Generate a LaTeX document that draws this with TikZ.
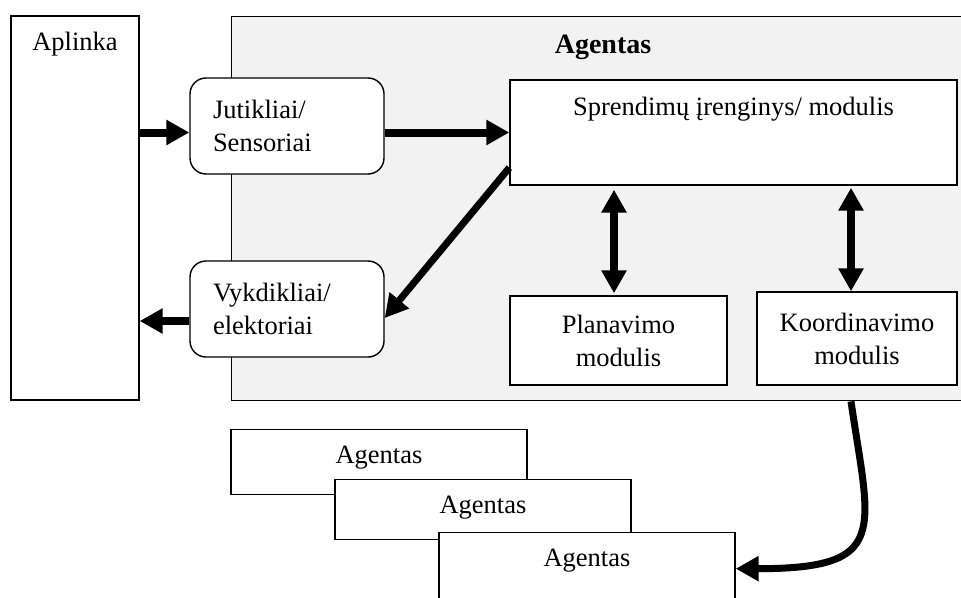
\documentclass[tikz,border=0pt]{standalone}
\usepackage{fontspec}
\setmainfont{Liberation Serif}
\usetikzlibrary{arrows.meta, positioning}

\tikzset{
	box/.style={draw, line width=1.4pt, fill=white, inner sep=0pt},
	roundbox/.style={box, rounded corners=16pt, align=left, text width=148pt, inner xsep=23pt, minimum width=194pt, minimum height=96pt},
	agentbox/.style={box, anchor=north, minimum width=296pt, text height=26pt, inner ysep=8pt},
	bigarrow/.style={line width=8pt, -{Triangle[length=23pt,width=24pt]}},
	dblarrow/.style={line width=8pt, {Triangle[length=23pt,width=24pt]}-{Triangle[length=23pt,width=24pt]}},
}

\begin{document}
\begin{tikzpicture}[x=1pt, y=-1pt, font=\fontsize{26.5}{33}\selectfont]
	\useasboundingbox (0,0) rectangle (961,597);
	\clip (0,0) rectangle (961,597);

		\node[box, minimum width=128pt, minimum height=384pt, label={[anchor=north, yshift=-13pt]north:Aplinka}] (aplinka) at (75,208) {};
		\node[box, fill=black!5, anchor=north west, minimum width=760pt, minimum height=384pt] (agentas) at (231,16) {};
		\node[font=\bfseries\fontsize{28}{33}\selectfont] (pavadinimas) at (603,47) {Agentas};

		\node[roundbox] (jutikliai) at (287,126) {Jutikliai/\\Sensoriai};
		\node[roundbox] (vykdikliai) at (287,309) {Vykdikliai/\\elektoriai};
		\node[box, minimum width=447pt, minimum height=105pt, label={[anchor=north, yshift=-14pt]north:Sprendimų įrenginys/ modulis}] (sprendimai) at (733.5,132.5) {};
		\node[box, align=center, minimum width=217pt, minimum height=89pt] (planavimas) at (618.5,340.5) {Planavimo\\modulis};
		\node[box, align=center, minimum width=200pt, minimum height=93pt] (koordinavimas) at (857,338.5) {Koordinavimo\\modulis};

		\node[agentbox, text depth=23pt] (agentas1) at (379,429) {Agentas};
		\node[agentbox, text depth=18pt] (agentas2) at (483,479) {Agentas};
		\node[agentbox, text depth=40pt] (agentas3) at (587,532) {Agentas};

		\draw[bigarrow] (aplinka.east |- sprendimai.west) -- (jutikliai.west |- sprendimai.west);
		\draw[bigarrow] (jutikliai.east |- sprendimai.west) -- (sprendimai.west);
		\draw[bigarrow, line width=7pt] ([yshift=18pt]sprendimai.south west) -- ([yshift=-9pt]vykdikliai.east);
		\draw[bigarrow] ([yshift=-12pt]vykdikliai.west) -- ([yshift=-12pt]vykdikliai.west -| aplinka.east);
		\draw[dblarrow, shorten <=4pt, shorten >=2pt] ([xshift=-4.5pt]planavimas.north |- sprendimai.south) -- ([xshift=-4.5pt]planavimas.north);
		\draw[dblarrow, shorten <=2pt] ([xshift=-6pt]koordinavimas.north |- sprendimai.south) -- ([xshift=-6pt]koordinavimas.north);
		\draw[bigarrow, line width=7pt] ([xshift=-6pt]koordinavimas.south |- agentas.south) .. controls +(19,130) and +(155,0) .. ([yshift=5pt]agentas3.east);
	\end{tikzpicture}
\end{document}
